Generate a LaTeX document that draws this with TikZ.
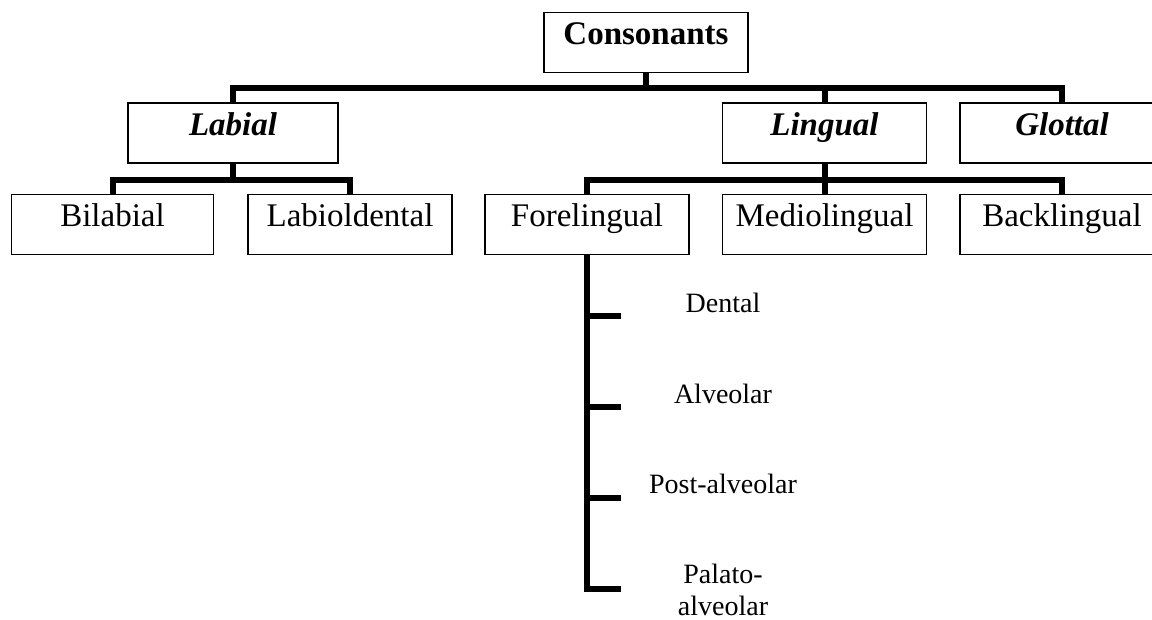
\documentclass[tikz,border=0pt]{standalone}
\usepackage{fontspec}
\setmainfont{Liberation Serif}
\begin{document}
\begin{tikzpicture}[x=1pt, y=-1pt,
    box/.style={draw, line width=1.5pt, minimum width=204pt, inner sep=0pt,
        text height=32pt, text depth=28pt, font=\fontsize{33}{38}\selectfont},
    head/.style={box, font=\fontsize{33}{38}\selectfont\bfseries\itshape},
    bar/.style={line width=6pt, line join=miter},
    place/.style={inner sep=0pt, font=\fontsize{28}{32}\selectfont}]
    \clip (0,0) rectangle (1152,619);

    % Root
    \node[box, font=\fontsize{33}{38}\selectfont\bfseries] (cons) at (646,42.5) {Consonants};

    % Active organ
    \node[head, minimum width=210pt] (labial) at (233,133) {Labial};
    \node[head] (lingual) at (824.5,133) {Lingual};
    \node[head] (glottal) at (1062,133) {Glottal};

    % Subgroups
    \node[box, minimum width=202pt] (bilabial) at (112.5,224.5) {Bilabial};
    \node[box] (labiodental) at (350,224.5) {Labioldental};
    \node[box] (fore) at (587,224.5) {Forelingual};
    \node[box] (medio) at (824.5,224.5) {Mediolingual};
    \node[box] (back) at (1062,224.5) {Backlingual};

    % Branches
    \foreach \n in {labial,lingual,glottal}
        \draw[bar] (cons.south) -- ++(0,15) -| (\n.north);
    \foreach \n in {bilabial,labiodental}
        \draw[bar] (labial.south) -- ++(0,16) -| (\n.north);
    \foreach \n in {fore,medio,back}
        \draw[bar] (lingual.south) -- ++(0,16) -| (\n.north);

    % Forelingual places
    \coordinate (t1) at (621,316);
    \coordinate (t2) at (621,407);
    \coordinate (t3) at (621,498);
    \coordinate (t4) at (621,589);
    \draw[bar] (fore.south) |- (t4);
    \foreach \t in {t1,t2,t3}
        \draw[bar] (fore.south |- \t) -- (\t);

    \node[place, anchor=base] (dental) at (723,312) {Dental};
    \node[place, anchor=base] (alveolar) at (723,403) {Alveolar};
    \node[place, anchor=base] (postalv) at (723,493) {Post-alveolar};
    \node[place, anchor=north, align=center] (palato) at (723,564) {Palato-\\alveolar};
\end{tikzpicture}
\end{document}
